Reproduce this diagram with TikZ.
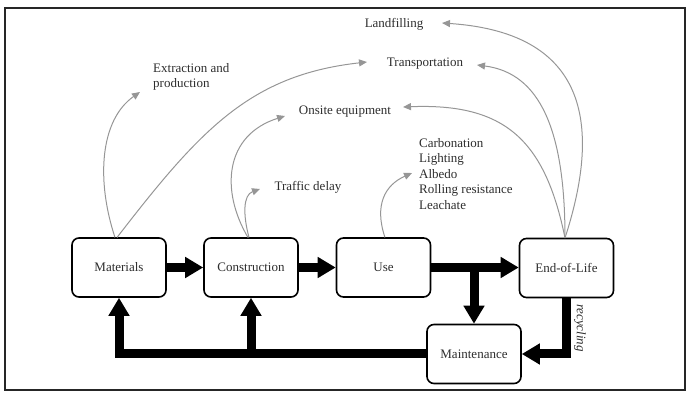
\documentclass[tikz,border=0pt]{standalone}
\usepackage{fontspec}
\setmainfont{Liberation Serif}
\usetikzlibrary{arrows.meta}
\definecolor{txt}{RGB}{45,45,45}
\definecolor{thin}{RGB}{150,150,150}
\begin{document}
\begin{tikzpicture}[x=1pt,y=-1pt,
  every node/.style={font=\fontsize{13}{15.5}\selectfont, text=txt},
  stagebox/.style={draw=black, line width=1.6pt, rounded corners=7pt, minimum width=94pt, minimum height=59pt, inner sep=0pt, fill=white},
  label/.style={inner sep=0pt},
  bigflow/.style={draw=black, line width=9pt, line join=miter, -{Triangle[length=18pt,width=20pt]}},
  effect/.style={draw=thin, line width=1pt, -{Triangle[length=8pt,width=7pt]}}]
\useasboundingbox (0,0) rectangle (691,395);
\draw[line width=1.5pt, black!85] (5,8) rectangle (685,390);

\node[stagebox] (mat) at (119,267.5) {Materials};
\node[stagebox] (con) at (251,267.5) {Construction};
\node[stagebox] (use) at (383.5,267.5) {Use};
\node[stagebox] (eol) at (566.5,268) {End-of-Life};
\node[stagebox] (mnt) at (474,354) {Maintenance};

\node[label] (lf) at (394,24) {Landfilling};
\node[label] (tr) at (425,64) {Transportation};
\node[label] (os) at (345,112) {Onsite equipment};
\node[label, align=left, anchor=west] (ex) at (153,77) {Extraction and\\production};
\node[label] (td) at (308,187) {Traffic delay};
\node[label, align=left, anchor=west] (ul) at (419,174) {Carbonation\\Lighting\\Albedo\\Rolling resistance\\Leachate};

% thick flows
\draw[bigflow] (mat.east) -- (con.west);
\draw[bigflow] (con.east) -- (use.west);
\draw[bigflow] (use.east) -- (use.east -| eol.west);
\coordinate (ub) at (use.east -| mnt.north);
\draw[bigflow] (ub) -- (mnt.north);
\coordinate (eb) at (eol.south |- mnt.east);
\draw[bigflow] (eol.south) -- (eb) -- (mnt.east);
\coordinate (bl) at (mat.south |- mnt.west);
\draw[bigflow] (mnt.west) -- (bl) -- (mat.south);
\coordinate (bc) at (con.south |- mnt.west);
\draw[bigflow] (bc) -- (con.south);
\node[inner sep=0pt, rotate=-90, font=\fontsize{13}{15.5}\selectfont\itshape] (rc) at (580,328) {recycling};

% thin effect arrows
\coordinate (m1) at (115,237.5);
\coordinate (m2) at (117,237.5);
\coordinate (c1) at (248,237.5);
\coordinate (c2) at (249,237.5);
\coordinate (u1) at (385,237.5);
\coordinate (e1) at (565,238);
\coordinate (exT) at (140,92);
\coordinate (trT) at (367,62);
\coordinate (osT) at (285,116);
\coordinate (tdT) at (260,189);
\coordinate (ulT) at (412,173);
\coordinate (osR) at (403,107);
\coordinate (trR) at (477,65);
\coordinate (lfR) at (442,23);
\draw[effect] (m1) .. controls (96,180) and (100,120) .. (exT);
\draw[effect] (m2) .. controls (200,130) and (250,75) .. (trT);
\draw[effect] (c1) .. controls (220,190) and (225,135) .. (osT);
\draw[effect] (c2) .. controls (243,215) and (243,195) .. (tdT);
\draw[effect] (u1) .. controls (374,205) and (385,185) .. (ulT);
\draw[effect] (e1) .. controls (545,140) and (505,103) .. (osR);
\draw[effect] (e1) .. controls (565,130) and (540,73) .. (trR);
\draw[effect] (e1) .. controls (600,130) and (592,33) .. (lfR);
\end{tikzpicture}
\end{document}
